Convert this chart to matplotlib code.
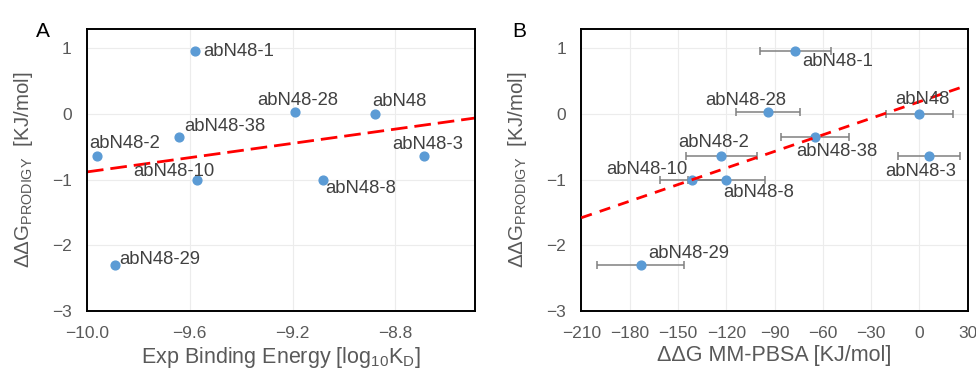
import matplotlib
matplotlib.use("Agg")
import matplotlib.pyplot as plt
import numpy as np

# --- Dados -------------------------------------------------------------------
NOMES = ["abN48-1", "abN48-28", "abN48", "abN48-38", "abN48-2",
         "abN48-10", "abN48-8", "abN48-3", "abN48-29"]
DG_PRODIGY = [0.96, 0.02, 0.0, -0.35, -0.64, -1.01, -1.00, -0.64, -2.30]
EXP_LOGKD = [-9.58, -9.19, -8.88, -9.64, -9.96, -9.57, -9.08, -8.69, -9.89]
DG_MMPBSA = [-77, -94, 0, -65, -123, -141, -120, 6, -173]
ERR_MMPBSA = [22, 20, 21, 21, 22, 20, 24, 19, 27]

TICKS_A = [-10.0, -9.6, -9.2, -8.8]
TICKS_B = [-210, -180, -150, -120, -90, -60, -30, 0, 30]
TICKS_Y = [-3, -2, -1, 0, 1]

# deslocamento dos rótulos em pixels (dx, dy), texto centrado
OFF_A = {
    "abN48-1": (44, -1), "abN48-28": (3, 12), "abN48": (25, 12),
    "abN48-38": (45, 10), "abN48-2": (27, 12), "abN48-10": (-24, 9),
    "abN48-8": (37, -9), "abN48-3": (4, 11), "abN48-29": (45, 5),
}
OFF_B = {
    "abN48-1": (42, -11), "abN48-28": (-22, 12), "abN48": (3, 14),
    "abN48-38": (22, -15), "abN48-2": (-8, 13), "abN48-10": (-46, 11),
    "abN48-8": (32, -13), "abN48-3": (-8, -16), "abN48-29": (48, 11),
}

AZUL = "#5b9bd5"
CINZA_TXT = "#595959"
FONTE = "Liberation Sans"

plt.rcParams.update({
    "font.family": FONTE,
    "axes.unicode_minus": True,
})

fig = plt.figure(figsize=(9.76, 3.71), dpi=100)
ax_a = fig.add_axes([0.0891, 0.1617, 0.3975, 0.7601])
ax_b = fig.add_axes([0.5956, 0.1617, 0.3959, 0.7601])


def estilo(ax):
    for sp in ax.spines.values():
        sp.set_color("black")
        sp.set_linewidth(1.4)
    ax.tick_params(length=0, labelsize=12.5, labelcolor=CINZA_TXT, pad=11)
    ax.grid(color="#ececec", linewidth=0.8)
    ax.set_axisbelow(True)
    ax.set_ylim(-3, 1.29)
    ax.set_yticks(TICKS_Y)
    ax.set_ylabel(r"ΔΔG$_{\mathregular{PRODIGY}}$  [KJ/mol]", fontsize=14.8,
                  color=CINZA_TXT, labelpad=12)


def rotulos(ax, xs, offs):
    for nome, x, y in zip(NOMES, xs, DG_PRODIGY):
        dx, dy = offs[nome]
        ax.annotate(nome, (x, y), xytext=(dx, dy), textcoords="offset pixels",
                    ha="center", va="center", fontsize=13.3, color="#404040",
                    zorder=4)


# Painel A
estilo(ax_a)
ax_a.set_xlim(-10.0, -8.49)
ax_a.set_xticks(TICKS_A)
ax_a.set_xticklabels([f"{t:.1f}".replace("-", "\u2212") for t in TICKS_A])
ax_a.set_xlabel(r"Exp Binding Energy [log$_{\mathregular{10}}$K$_{\mathregular{D}}$]",
                fontsize=15.5, color=CINZA_TXT, labelpad=3)
ax_a.scatter(EXP_LOGKD, DG_PRODIGY, s=40, color=AZUL, zorder=3)
coef_a = np.polyfit(EXP_LOGKD, DG_PRODIGY, 1)
xa = np.array(ax_a.get_xlim())
ax_a.plot(xa, np.polyval(coef_a, xa), color="red", lw=2,
          dashes=(6, 2.5), zorder=2)
rotulos(ax_a, EXP_LOGKD, OFF_A)

# Painel B
estilo(ax_b)
ax_b.set_xlim(-210, 30)
ax_b.set_xticks(TICKS_B)
ax_b.set_xlabel("ΔΔG MM-PBSA [KJ/mol]", fontsize=15.5, color=CINZA_TXT, labelpad=3)
ax_b.errorbar(DG_MMPBSA, DG_PRODIGY, xerr=ERR_MMPBSA, fmt="none",
              ecolor="#808080", elinewidth=1.1, capsize=3, capthick=1.1, zorder=2)
ax_b.scatter(DG_MMPBSA, DG_PRODIGY, s=40, color=AZUL, zorder=3)
coef_b = np.polyfit(DG_MMPBSA, DG_PRODIGY, 1)
xb = np.array([-210, 28])
ax_b.plot(xb, np.polyval(coef_b, xb), color="red", lw=2,
          dashes=(4, 3), zorder=4)
rotulos(ax_b, DG_MMPBSA, OFF_B)

fig.text(0.037, 0.9, "A", fontsize=15, color="black")
fig.text(0.525, 0.9, "B", fontsize=15, color="black")

fig.savefig("out.png", dpi=100)
